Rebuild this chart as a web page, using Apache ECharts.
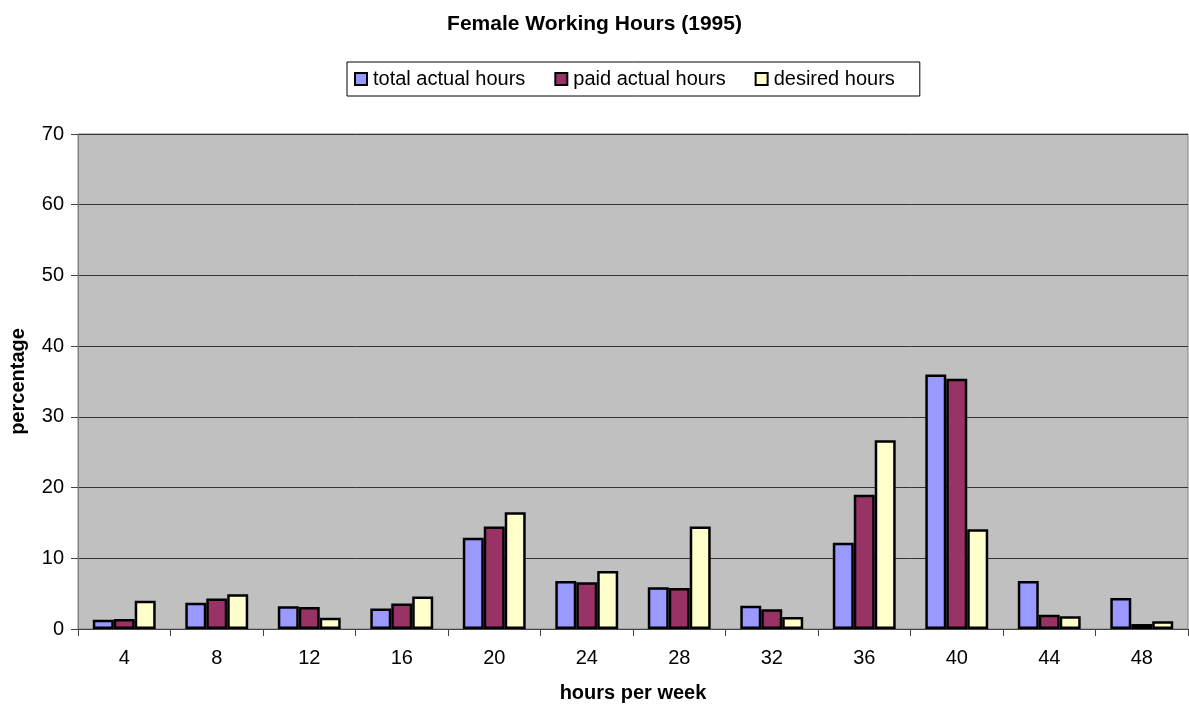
<!DOCTYPE html>
<html>
<head>
<meta charset="utf-8">
<script src="https://cdn.jsdelivr.net/npm/echarts@6/dist/echarts.min.js"></script>
<style>html,body{margin:0;padding:0;background:#fff}#c{width:1189px;height:710px}</style>
</head>
<body>
<div id="c"></div>
<script>
const categories = ['4','8','12','16','20','24','28','32','36','40','44','48'];
const totalActual = [1.3, 3.7, 3.2, 2.9, 12.9, 6.8, 5.9, 3.3, 12.2, 36.0, 6.8, 4.4];
const paidActual  = [1.4, 4.3, 3.1, 3.6, 14.5, 6.6, 5.8, 2.8, 19.0, 35.4, 2.0, 0.7];
const desired     = [4.0, 4.9, 1.6, 4.6, 16.5, 8.2, 14.5, 1.7, 26.7, 14.1, 1.8, 1.1];
const seriesNames = ['total actual hours', 'paid actual hours', 'desired hours'];
const yTicks = {min: 0, max: 70, interval: 10};

const font = 'Liberation Sans, Arial, sans-serif';
const colors = ['#9999ff', '#993366', '#ffffcc'];
const chart = echarts.init(document.getElementById('c'));
const mk = (name, data, i) => ({
  name, type: 'bar', data,
  barGap: '0%', barCategoryGap: '32%',
  itemStyle: {color: colors[i], borderColor: '#000', borderWidth: 2.5},
  emphasis: {disabled: true}
});
chart.setOption({
  animation: false,
  title: {
    text: 'Female Working Hours (1995)', left: 'center', top: 9,
    textStyle: {fontFamily: font, fontSize: 21, fontWeight: 'bold', color: '#000'}
  },
  legend: {
    data: seriesNames, left: 347, top: 62,
    padding: [7, 25, 7, 7], itemGap: 29, itemWidth: 12, itemHeight: 12,
    icon: 'rect', borderColor: '#000', borderWidth: 1,
    itemStyle: {borderColor: '#000', borderWidth: 2},
    textStyle: {fontFamily: font, fontSize: 20, color: '#000', padding: [0, 0, 0, 1]}
  },
  grid: {left: 78, right: 1, top: 134, bottom: 81, show: true,
    backgroundColor: '#c0c0c0', borderColor: '#808080', borderWidth: 1},
  xAxis: {
    type: 'category', data: categories,
    name: 'hours per week', nameLocation: 'middle', nameGap: 54,
    nameTextStyle: {fontFamily: font, fontSize: 20, fontWeight: 'bold', color: '#000'},
    axisLine: {lineStyle: {color: '#444', width: 1}},
    axisTick: {show: true, length: 7, lineStyle: {color: '#444'}},
    axisLabel: {fontFamily: font, fontSize: 20, color: '#000', margin: 19}
  },
  yAxis: {
    type: 'value', min: yTicks.min, max: yTicks.max, interval: yTicks.interval,
    name: 'percentage', nameLocation: 'middle', nameGap: 50,
    nameTextStyle: {fontFamily: font, fontSize: 20, fontWeight: 'bold', color: '#000'},
    axisLine: {show: true, lineStyle: {color: '#808080', width: 1}},
    axisTick: {show: true, length: 7, lineStyle: {color: '#444'}},
    axisLabel: {fontFamily: font, fontSize: 20, color: '#000', margin: 14},
    splitLine: {lineStyle: {color: '#333', width: 1}}
  },
  series: [mk(seriesNames[0], totalActual, 0), mk(seriesNames[1], paidActual, 1), mk(seriesNames[2], desired, 2)]
});
</script>
</body>
</html>
